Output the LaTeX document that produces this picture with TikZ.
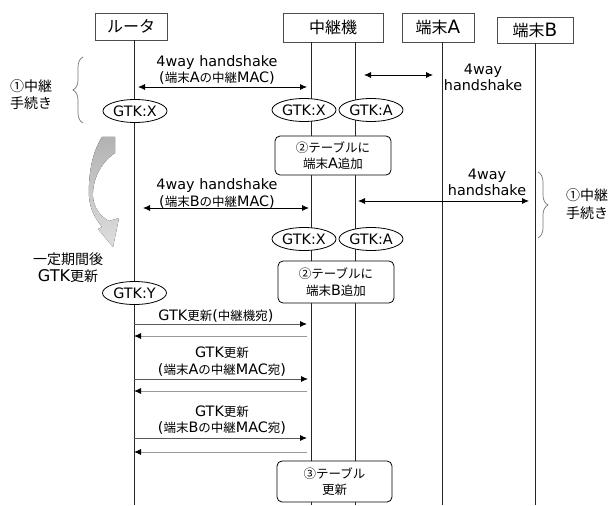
\documentclass[tikz,border=0pt]{standalone}
\usepackage{fontspec}
\setmainfont{DejaVu Sans}[Scale=1.15]
\newfontfamily\jpfont{Noto Sans CJK JP}
\newcommand\jtxt[1]{{\jpfont #1}}
\usetikzlibrary{positioning, arrows.meta, shapes.geometric, decorations.pathreplacing, calc}

\tikzset{
    head/.style={draw=black!70, fill=white, line width=0.8pt, inner sep=0pt,
        font=\fontsize{16}{18}\selectfont},
    gtk/.style={ellipse, draw, fill=white, line width=0.8pt, inner sep=0pt,
        minimum width=64pt, minimum height=23pt},
    tablebox/.style={draw, fill=white, rounded corners=5pt, line width=0.8pt,
        align=center, inner sep=0pt},
    lifeline/.style={black!85, line width=0.8pt},
    hs/.style={{Latex[length=7pt,width=6pt]}-{Latex[length=7pt,width=6pt]}, line width=0.8pt},
    fwd/.style={-{Latex[length=7pt,width=6pt,black]}, black!65, line width=0.9pt},
    ret/.style={-{Latex[length=7pt,width=6pt,black]}, black!40, line width=0.9pt},
    lbl/.style={align=center, inner sep=0pt},
    side/.style={lbl, font=\fontsize{14}{17.5}\selectfont},
    brc/.style={decorate, decoration={brace, amplitude=10pt}, black!55, line width=0.7pt}
}

\begin{document}
\begin{tikzpicture}[x=1pt, y=-1pt, font=\fontsize{12.5}{16.5}\selectfont]
    \useasboundingbox (0,0) rectangle (609,505);

    % heads
    \node[head, minimum width=72pt, minimum height=27pt] (router) at (131,26.5) {\jtxt{ルータ}};
    \node[head, minimum width=100pt, minimum height=29pt] (relay) at (333,27.5) {\jtxt{中継機}};
    \node[head, minimum width=72pt, minimum height=29pt] (termA) at (438,27.5) {\jtxt{端末}A};
    \node[head, minimum width=76pt, minimum height=26pt] (termB) at (535,30) {\jtxt{端末}B};

    % draw lifelines
    \foreach \name/\x/\top in {router/134/router, relayA/311/relay, relayB/355/relay,
                               termA/442/termA, termB/535/termB}
    {
        \coordinate (\name-top) at (\x,0 |- \top.south);
        \coordinate (\name-bot) at (\x,505);
        \draw[lifeline] (\name-top) -- (\name-bot);
    }

    % message ends
    \coordinate (h1a) at (138,87);
    \coordinate (h1b) at (307,87);
    \coordinate (h2a) at (364,75);
    \coordinate (h2b) at (433,75);
    \coordinate (h3a) at (143,208);
    \coordinate (h3b) at (309,208);
    \coordinate (h4a) at (358,201);
    \coordinate (h4b) at (529,201);
    \coordinate (g1a) at (134,324);
    \coordinate (g1b) at (307,324);
    \coordinate (r1a) at (307,336);
    \coordinate (r1b) at (134,336);
    \coordinate (g2a) at (134,379);
    \coordinate (g2b) at (308,379);
    \coordinate (r2a) at (307,391);
    \coordinate (r2b) at (134,391);
    \coordinate (g3a) at (134,438);
    \coordinate (g3b) at (307,438);
    \coordinate (r3a) at (307,452);
    \coordinate (r3b) at (134,452);

    % draw messages
    \foreach \from/\to/\sty in {h1a/h1b/hs, h2a/h2b/hs, h3a/h3b/hs, h4a/h4b/hs,
                                g1a/g1b/fwd, r1a/r1b/ret, g2a/g2b/fwd, r2a/r2b/ret,
                                g3a/g3b/fwd, r3a/r3b/ret}
    {
        \draw[\sty] (\from) -- (\to);
    }

    % message labels
    \node[lbl] (hs1) at (217,70) {4way handshake\\(\jtxt{端末}A\jtxt{の中継}MAC)};
    \node[lbl] (hs2) at (483,77.5) {4way\\handshake};
    \node[lbl] (hs3) at (217,193.5) {4way handshake\\(\jtxt{端末}B\jtxt{の中継}MAC)};
    \node[lbl] (hs4) at (487,182.5) {4way\\handshake};
    \node[lbl] (up1) at (216,316) {GTK\jtxt{更新}(\jtxt{中継機宛})};
    \node[lbl] (up2) at (222,361.5) {GTK\jtxt{更新}\\(\jtxt{端末}A\jtxt{の中継}MAC\jtxt{宛})};
    \node[lbl] (up3) at (222,420) {GTK\jtxt{更新}\\(\jtxt{端末}B\jtxt{の中継}MAC\jtxt{宛})};

    % keys
    \foreach \name/\x/\y/\txt in {gtkR1/135/111/X, gtkX1/304/110/X, gtkA1/371/110/A,
                                  gtkX2/304/239/X, gtkA2/371/239/A, gtkR2/134.5/293/Y}
    {
        \node[gtk] (\name) at (\x,\y) {GTK:\txt};
    }

    % tables
    \node[tablebox, minimum width=116pt, minimum height=39pt] (tabA) at (333,155.5)
        {\jtxt{②テーブルに}\\\jtxt{端末}A\jtxt{追加}};
    \node[tablebox, minimum width=116pt, minimum height=42pt] (tabB) at (336,282)
        {\jtxt{②テーブルに}\\\jtxt{端末}B\jtxt{追加}};
    \node[tablebox, minimum width=115pt, minimum height=41pt] (tabC) at (334.5,481.5)
        {\jtxt{③テーブル}\\\jtxt{更新}};

    % braces
    \coordinate (bl1) at (83,123);
    \coordinate (bl2) at (83,57);
    \coordinate (br1) at (538,172);
    \coordinate (br2) at (538,238);
    \draw[brc] (bl1) -- (bl2);
    \draw[brc] (br1) -- (br2);
    \node[side] (step1) at (31,94.5) {\jtxt{①中継}\\\jtxt{手続き}};
    \node[side, anchor=west, align=left] (step2) at (566,204) {\jtxt{①中継}\\\jtxt{手続き}};

    % period
    \fill[shading=axis, top color=black!30, bottom color=black!13]
        (102,137) -- (115,137) -- (115,153)
        .. controls (101,162) and (92,180) .. (93,197)
        .. controls (94,208) and (100,216) .. (109,221)
        -- (119,218) -- (113,247) -- (98,229) -- (102,227)
        .. controls (90,212) and (88,200) .. (89,185)
        .. controls (90,163) and (95,148) .. (102,137) -- cycle;
    \node[side] (period) at (68,267.5) {\jtxt{一定期間後}\\GTK\jtxt{更新}};
\end{tikzpicture}
\end{document}
